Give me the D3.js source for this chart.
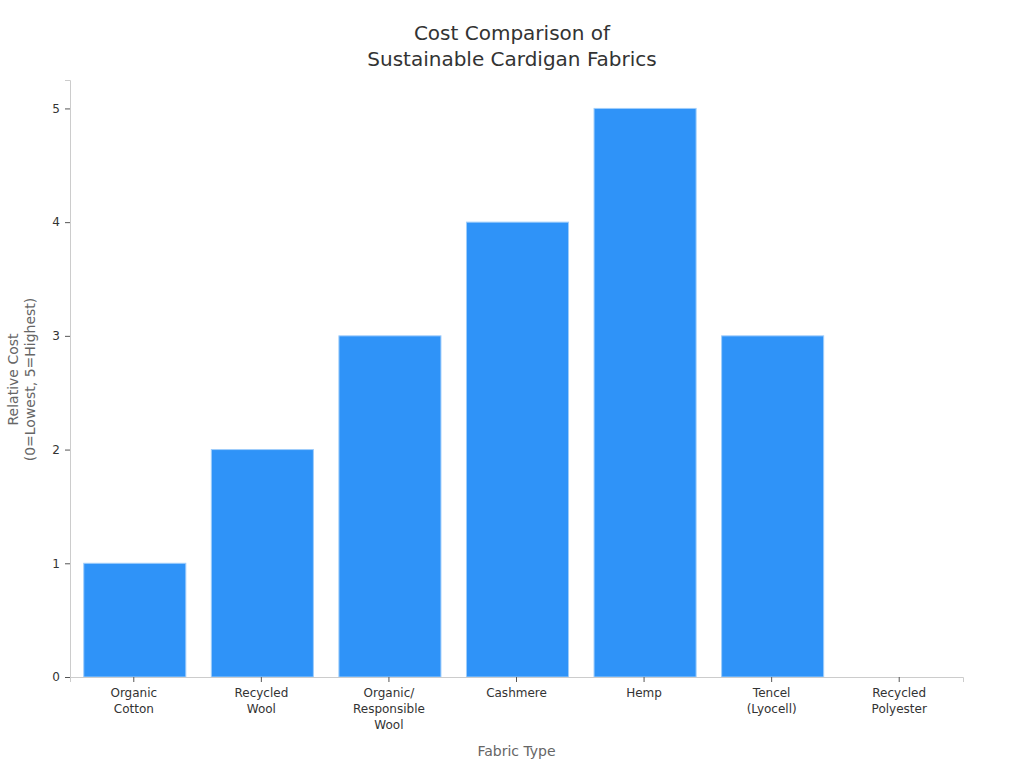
<!DOCTYPE html>
<html>
<head>
<meta charset="utf-8">
<script src="https://cdn.jsdelivr.net/npm/d3@7"></script>
<style>
  body { margin: 0; background: #fff; }
  svg text { font-family: "DejaVu Sans", sans-serif; }
</style>
</head>
<body>
<div id="drawing_region"></div>
<script>
const categories = ["Organic\nCotton", "Recycled\nWool", "Organic/\nResponsible\nWool", "Cashmere", "Hemp", "Tencel\n(Lyocell)", "Recycled\nPolyester"];
const costValues = [1, 2, 3, 4, 5, 3, 0];
const yTicks = [0, 1, 2, 3, 4, 5];

const width = 1024, height = 768;
const margin = { top: 80, right: 61, bottom: 91, left: 70 };
const innerWidth = width - margin.left - margin.right;
const innerHeight = height - margin.top - margin.bottom;

const svg = d3.select("#drawing_region").append("svg")
    .attr("width", width)
    .attr("height", height);

const chart = svg.append("g")
    .attr("transform", `translate(${margin.left}, ${margin.top})`);

const xscale = d3.scaleBand().domain(categories).range([0, innerWidth]).paddingInner(0.2).paddingOuter(0.1);
const yscale = d3.scaleLinear().domain([0, 5.25]).range([innerHeight, 0]);

// bars
chart.selectAll("rect").data(categories).enter().append("rect")
    .attr("x", d => xscale(d) + 1)
    .attr("y", (d, i) => yscale(costValues[i]))
    .attr("width", xscale.bandwidth())
    .attr("height", (d, i) => yscale(0) - yscale(costValues[i]))
    .attr("fill", "#2f93f8")
    .attr("stroke", "#9fcdfb")
    .attr("stroke-width", 1);

// axes
const xaxis = chart.append("g")
    .attr("transform", `translate(0, ${innerHeight})`)
    .call(d3.axisBottom(xscale).tickSizeOuter(0).tickSize(5).tickPadding(6));
const yaxis = chart.append("g")
    .call(d3.axisLeft(yscale).tickValues(yTicks).tickFormat(d3.format("d")).tickSizeOuter(0).tickSize(5).tickPadding(5));

[xaxis, yaxis].forEach(g => {
    g.attr("font-family", null);
    g.select(".domain").attr("stroke", "#cccccc");
    g.selectAll(".tick line").attr("stroke", "#555");
    g.selectAll(".tick text").attr("fill", "#333").style("font-size", "12px");
});

// multi-line x labels: one text element per line
xaxis.selectAll(".tick").each(function(d) {
    const tick = d3.select(this);
    tick.select("text").remove();
    d.split("\n").forEach((line, i) => {
        tick.append("text")
            .attr("x", 0)
            .attr("y", 11 + i * 16)
            .attr("dy", "0.71em")
            .attr("text-anchor", "middle")
            .attr("fill", "#333")
            .style("font-size", "12px")
            .text(line);
    });
});

// title
svg.append("text")
    .attr("x", width / 2).attr("y", 40)
    .attr("text-anchor", "middle")
    .attr("fill", "#333")
    .style("font-size", "20px")
    .text("Cost Comparison of");
svg.append("text")
    .attr("x", width / 2).attr("y", 66)
    .attr("text-anchor", "middle")
    .attr("fill", "#333")
    .style("font-size", "20px")
    .text("Sustainable Cardigan Fabrics");

// axis labels
svg.append("text")
    .attr("x", margin.left + innerWidth / 2).attr("y", 756)
    .attr("text-anchor", "middle")
    .attr("fill", "#666")
    .style("font-size", "14px")
    .text("Fabric Type");

const ymid = margin.top + innerHeight / 2 + 1;
["Relative Cost", "(0=Lowest, 5=Highest)"].forEach((line, i) => {
    svg.append("text")
        .attr("transform", `translate(${18 + i * 17}, ${ymid}) rotate(-90)`)
        .attr("text-anchor", "middle")
        .attr("fill", "#666")
        .style("font-size", "14px")
        .text(line);
});
</script>
</body>
</html>
